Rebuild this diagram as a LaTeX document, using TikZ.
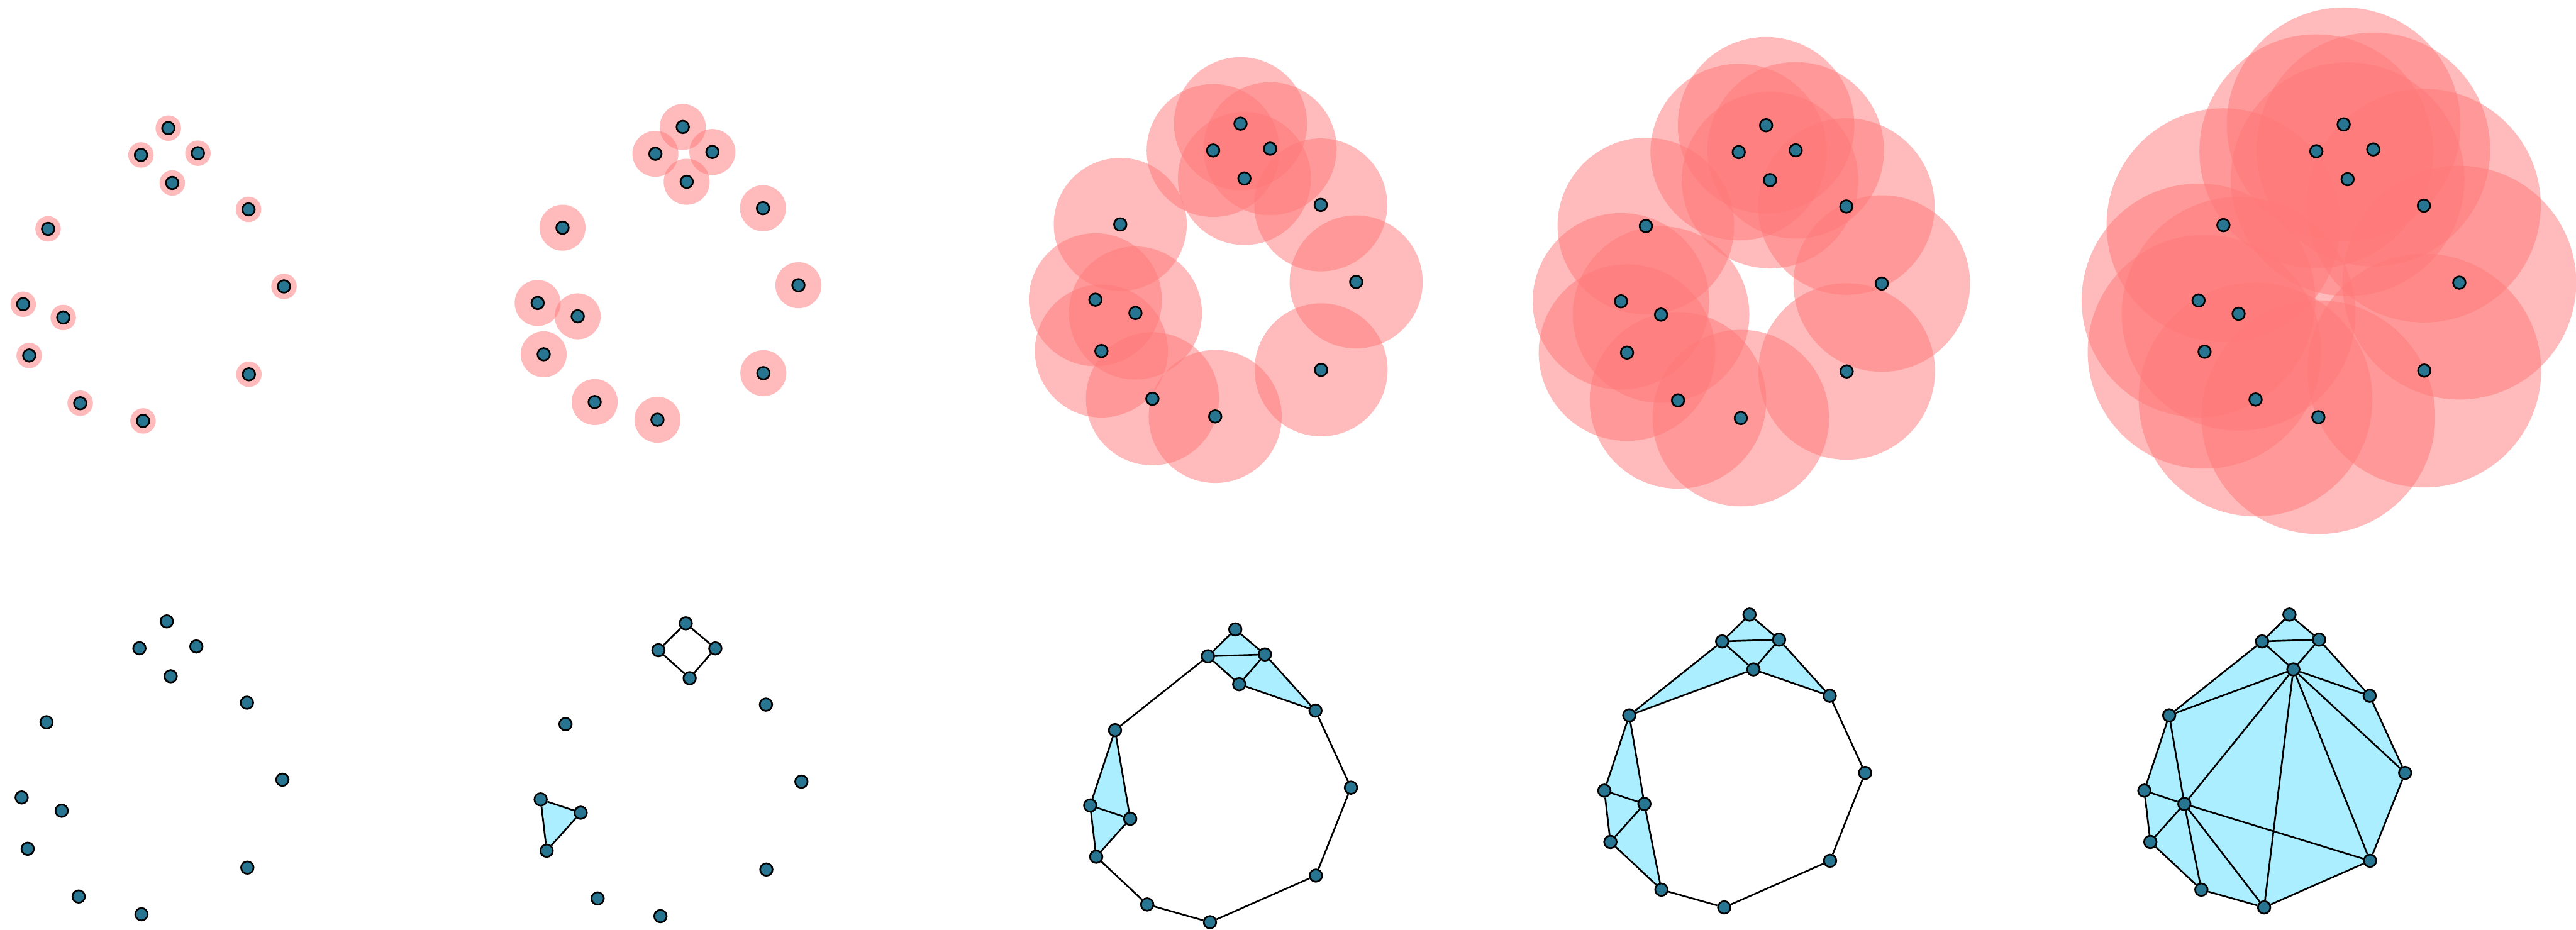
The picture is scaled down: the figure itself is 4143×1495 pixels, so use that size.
\documentclass[tikz,border=0pt]{standalone}
\usetikzlibrary{backgrounds}
\definecolor{dotc}{RGB}{39,117,145}
\definecolor{pinkc}{RGB}{255,120,120}
\definecolor{cplx}{RGB}{170,238,255}
\tikzset{
  vtx/.style={circle, draw=black, line width=2.7pt, fill=dotc, inner sep=0pt, minimum size=20pt},
  ball/.style={fill=pinkc, fill opacity=0.5},
  edge/.style={line width=2.7pt, draw=black},
  simplex/.style={fill=cplx},
}
\newcommand\ptlist{A/270.7/206.1, B/226.7/249.3, C/318.3/246.4, D/277/294.3, E/399.7/336.8, F/77.3/368.2, G/456.7/460.7, H/37.3/489.3, I/101.7/510.7, J/47/571.8, K/400.3/602.1, L/129/648.6, M/230/677.1}
\newcommand\toppanel[3]{%
  \begin{scope}[shift={#2}]
    \foreach \n/\x/\y in \ptlist {\fill[ball] (\x,\y) circle[radius=#3pt];}
    \foreach \n/\x/\y in \ptlist {\node[vtx] (#1\n) at (\x,\y) {};}
  \end{scope}}
\newcommand\botpanel[2]{%
  \begin{scope}[shift={#2}]
    \foreach \n/\x/\y in \ptlist {\node[vtx] (#1\n) at (\x,\y) {};}
  \end{scope}}
\begin{document}
\begin{tikzpicture}[x=1pt,y=-1pt]
\useasboundingbox (0,0) rectangle (4143,1495);
% top row: growing balls
\toppanel{ta}{(0,0)}{20.5}
\toppanel{tb}{(827.4,-1.9)}{37}
\toppanel{tc}{(1724.4,-7.2)}{107}
\toppanel{td}{(2569.7,-4.6)}{142}
\toppanel{te}{(3498.6,-6)}{188}
% bottom row: complexes
\botpanel{ba}{(-2.5,793.5)}
\botpanel{bb}{(832.2,796.6)}
\botpanel{bc}{(1716,806.3)}
\botpanel{bd}{(2543,782.5)}
\botpanel{be}{(3411.4,782.5)}
\begin{pgfonlayer}{background}
  % panel 2
  \fill[simplex] (bbH.center) -- (bbI.center) -- (bbJ.center) -- cycle;
  \foreach \u/\v in {A/B,B/D,D/C,C/A,H/I,I/J,J/H}
    \draw[edge] (bb\u) -- (bb\v);
  % panel 3
  \foreach \p/\q/\r in {A/B/C,B/C/D,C/D/E,F/H/I,H/I/J}
    \fill[simplex] (bc\p.center) -- (bc\q.center) -- (bc\r.center) -- cycle;
  \foreach \u/\v in {A/B,A/C,B/C,B/D,C/D,C/E,D/E,B/F,F/H,F/I,H/I,H/J,I/J,J/L,L/M,M/K,K/G,G/E}
    \draw[edge] (bc\u) -- (bc\v);
  % panel 4
  \foreach \p/\q/\r in {A/B/C,B/C/D,C/D/E,B/D/F,F/H/I,H/I/J,I/J/L}
    \fill[simplex] (bd\p.center) -- (bd\q.center) -- (bd\r.center) -- cycle;
  \foreach \u/\v in {A/B,A/C,B/C,B/D,C/D,C/E,D/E,B/F,D/F,F/H,F/I,H/I,H/J,I/J,I/L,J/L,L/M,M/K,K/G,G/E}
    \draw[edge] (bd\u) -- (bd\v);
  % panel 5
  \fill[simplex] (beA.center) -- (beC.center) -- (beE.center) -- (beG.center) -- (beK.center) -- (beM.center) -- (beL.center) -- (beJ.center) -- (beH.center) -- (beF.center) -- (beB.center) -- cycle;
  \foreach \u/\v in {A/B,A/C,B/C,B/D,C/D,C/E,D/E,B/F,D/F,D/I,D/M,D/K,D/G,E/G,G/K,K/M,M/L,L/J,J/H,H/F,F/I,H/I,I/J,I/L,I/M,I/K}
    \draw[edge] (be\u) -- (be\v);
\end{pgfonlayer}
\end{tikzpicture}
\end{document}
